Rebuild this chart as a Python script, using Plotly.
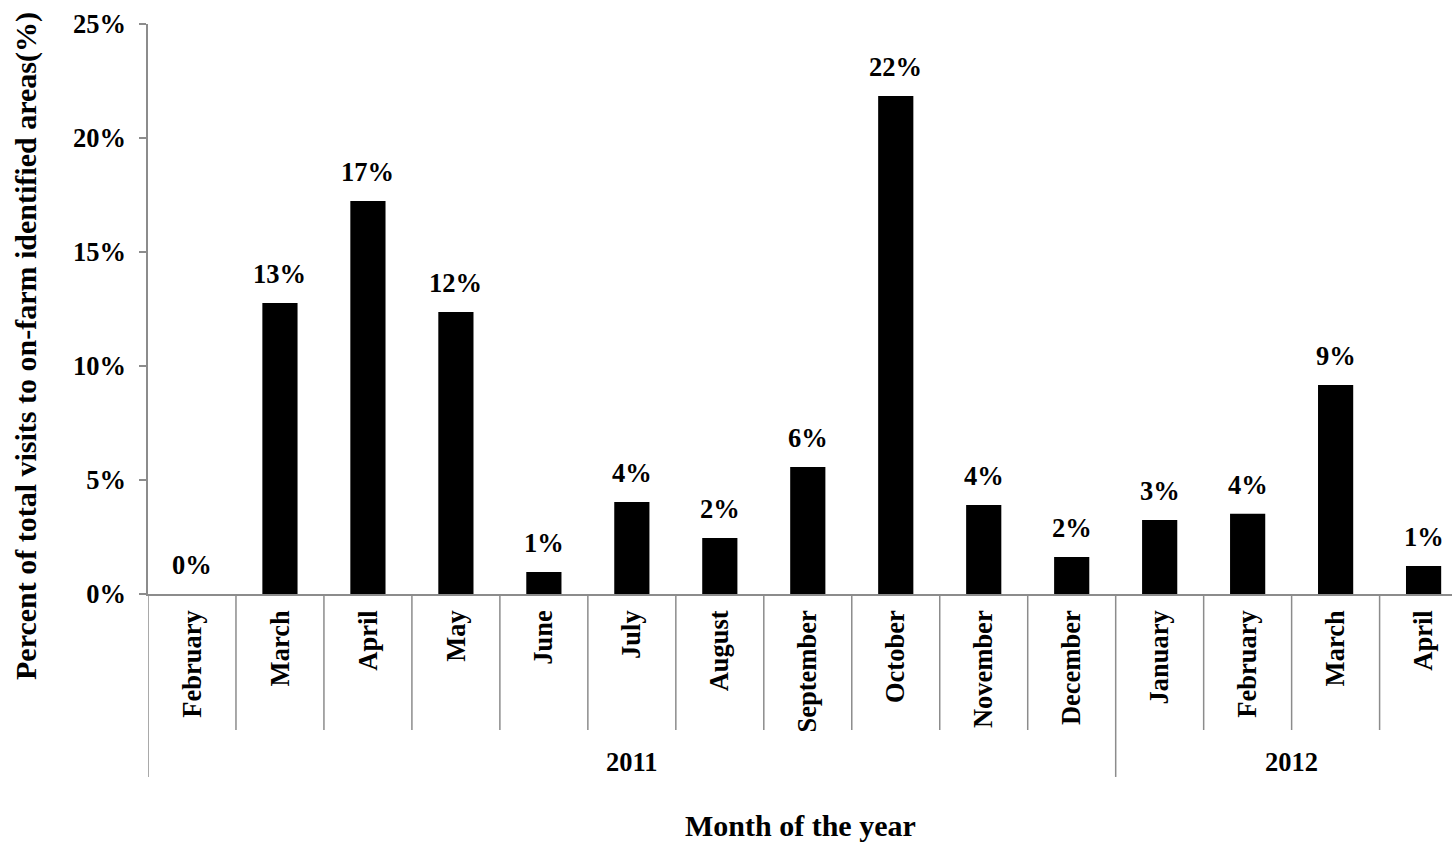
import plotly.graph_objects as go

# Monthly share of visits to on-farm identified areas
months = ["February", "March", "April", "May", "June", "July", "August",
          "September", "October", "November", "December",
          "January", "February", "March", "April"]
years = ["2011"] * 11 + ["2012"] * 4
share = [0.0, 0.1276, 0.1724, 0.1237, 0.0096, 0.0404, 0.0246,
         0.0557, 0.2184, 0.0390, 0.0162, 0.0325, 0.0352, 0.0917, 0.0123]

y_ticks = [0, 0.05, 0.10, 0.15, 0.20, 0.25]

FONT = "Liberation Serif, Times New Roman, serif"
AXIS_GREY = "#8c8c8c"
LABEL_SIZE = 26.5
TITLE_SIZE = 30

idx = list(range(len(months)))

fig = go.Figure()
fig.add_trace(go.Bar(
    x=idx, y=share, width=0.4,
    marker=dict(color="black", line=dict(width=0)),
    showlegend=False, hoverinfo="skip",
))

# value labels above each bar
for i, v in zip(idx, share):
    fig.add_annotation(
        x=i, y=v, xref="x", yref="y", text=f"{v:.0%}",
        showarrow=False, yanchor="bottom", yshift=12,
        font=dict(family=FONT, size=LABEL_SIZE, color="black", weight="bold"),
    )

# vertical separators between month labels
inner_bottom = -0.2386
group_bottom = -0.321
for k in range(1, len(months)):
    is_group_edge = years[k] != years[k - 1]
    fig.add_shape(
        type="line", xref="x", yref="paper",
        x0=k - 0.5, x1=k - 0.5, y0=0, y1=group_bottom if is_group_edge else inner_bottom,
        line=dict(color=AXIS_GREY, width=1.5),
    )
fig.add_shape(
    type="line", xref="x", yref="paper",
    x0=-0.5, x1=-0.5, y0=0, y1=group_bottom,
    line=dict(color=AXIS_GREY, width=1.5),
)

# year group labels
for yr in sorted(set(years)):
    members = [i for i, y in enumerate(years) if y == yr]
    fig.add_annotation(
        x=(members[0] + members[-1]) / 2, y=-0.294, xref="x", yref="paper",
        text=yr, showarrow=False, yanchor="middle",
        font=dict(family=FONT, size=LABEL_SIZE, color="black", weight="bold"),
    )

# axis titles
fig.add_annotation(
    x=0.5, y=-0.407, xref="paper", yref="paper", text="Month of the year",
    showarrow=False, yanchor="middle",
    font=dict(family=FONT, size=TITLE_SIZE, color="black", weight="bold"),
)
fig.add_annotation(
    x=-0.0936, y=0.435, xref="paper", yref="paper",
    text="Percent of total visits to on-farm identified areas(%)",
    showarrow=False, textangle=-90, xanchor="center", yanchor="middle",
    font=dict(family=FONT, size=TITLE_SIZE, color="black", weight="bold"),
)

fig.update_layout(
    width=1452, height=845,
    margin=dict(l=148, r=0, t=24, b=251),
    paper_bgcolor="white", plot_bgcolor="white",
    xaxis=dict(
        range=[-0.5, 14.323],
        tickmode="array", tickvals=idx, ticktext=months, tickangle=-90,
        ticks="", ticklabelstandoff=4,
        tickfont=dict(family=FONT, size=LABEL_SIZE, color="black", weight="bold"),
        showgrid=False, zeroline=False,
        showline=True, linecolor=AXIS_GREY, linewidth=1.5,
    ),
    yaxis=dict(
        range=[0, 0.25], tickmode="array", tickvals=y_ticks, tickformat=".0%",
        ticks="outside", ticklen=7, tickcolor=AXIS_GREY, tickwidth=1.5,
        ticklabelstandoff=8,
        tickfont=dict(family=FONT, size=LABEL_SIZE, color="black", weight="bold"),
        showgrid=False, zeroline=False,
        showline=True, linecolor=AXIS_GREY, linewidth=1.5,
    ),
)

fig.write_html("out.html")
